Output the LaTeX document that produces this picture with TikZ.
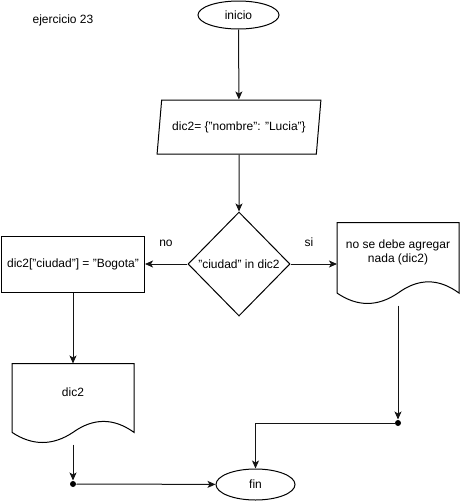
\documentclass[tikz,border=0pt]{standalone}
\usepackage{fontspec}
\setmainfont{Liberation Sans}
\usepackage{xcolor}
\usepackage{tikz}
\usetikzlibrary{shapes.geometric, arrows.meta, positioning, calc}
\definecolor{linegray}{RGB}{20, 20, 20}

\begin{document}
\begin{tikzpicture}[
        x=1pt, y=-1pt,
        font=\fontsize{12}{14}\selectfont,
        line width=1pt,
        terminal/.style={ellipse, draw, inner sep=0pt},
        datos/.style={trapezium, trapezium left angle=70.6, trapezium right angle=109.4, draw, inner sep=0pt, trapezium stretches=true},
        decision/.style={diamond, draw, inner sep=0pt},
        proceso/.style={rectangle, draw, inner sep=0pt},
        documento/.style={rectangle, inner sep=0pt, minimum width=121pt},
        dot/.style={circle, fill, inner sep=0pt, minimum size=6pt},
        etiqueta/.style={inner sep=1pt},
        flecha/.style={-{Stealth[length=8pt, width=7pt, inset=2pt]}, linegray}
    ]
    \useasboundingbox (0,0) rectangle (459,501);

    % Title
    \node[etiqueta] (titulo) at (63,20) {ejercicio 23};

    % Start and data
    \node[terminal, minimum width=81pt, minimum height=28pt] (inicio) at (238.5,15) {inicio};
    \node[datos, minimum width=164pt, minimum height=54pt] (dic) at (239,127) {dic2= \{"nombre": "Lucia"\}};

    % Decision
    \node[decision, minimum width=102pt, minimum height=104pt] (pregunta) at (239,264) {"ciudad" in dic2};
    \node[etiqueta] (no) at (166,243) {no};
    \node[etiqueta] (si) at (309,242) {si};

    % Branch no
    \node[proceso, minimum width=143pt, minimum height=56pt] (bogota) at (73,264) {dic2["ciudad"] = "Bogota"};
    \node[documento, minimum height=80pt] (docno) at (73,404) {};
    \node[etiqueta] (docnotxt) at (73,392) {dic2};
    \node[dot] (w1) at (73,484) {};

    % Branch si
    \node[documento, minimum height=82pt] (docsi) at (398,264) {};
    \node[etiqueta, align=center] (docsitxt) at (398,252) {no se debe agregar\\nada (dic2)};
    \node[dot] (w2) at (398,423) {};

    % End
    \node[terminal, minimum width=79pt, minimum height=31pt] (fin) at (255.5,484.5) {fin};

    % Document outlines
    \foreach \d in {docno, docsi} {
        \draw let \p1=(\d.north west), \p2=(\d.south east),
                  \n1={\y1-\y2}, \n2={\x2-\x1} in
            (\x1,{\y2+0.15*\n1}) -- (\x1,\y1) -- (\x2,\y1) -- (\x2,{\y2+0.15*\n1})
            .. controls ({\x2-\n2/6},{\y2+0.33*\n1}) and ({\x1+\n2/2+\n2/6},{\y2+0.33*\n1})
            .. ({\x1+\n2/2},{\y2+0.15*\n1})
            .. controls ({\x1+\n2/2-\n2/6},{\y2-0.017*\n1}) and ({\x1+\n2/6},{\y2-0.017*\n1})
            .. (\x1,{\y2+0.15*\n1});
    }

    % Arrows
    \draw[flecha] (inicio) -- (dic);
    \draw[flecha] (dic) -- (pregunta);
    \draw[flecha] (pregunta) -- (bogota);
    \draw[flecha] (pregunta) -- (docsi);
    \draw[flecha] (bogota) -- (docno);
    \draw[flecha] (docno) -- (w1);
    \draw[flecha] (w1) -- (fin);
    \draw[flecha] (docsi) -- (w2);
    \draw[flecha] (w2) -| (fin);
\end{tikzpicture}
\end{document}
